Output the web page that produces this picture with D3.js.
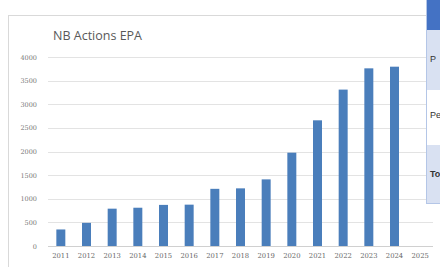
<!DOCTYPE html>
<html><head><meta charset="utf-8">
<script src="https://cdn.jsdelivr.net/npm/d3@7"></script>
<style>html,body{margin:0;padding:0;background:#fff;}svg{display:block;}</style>
</head><body>
<script>
const years = ["2011","2012","2013","2014","2015","2016","2017","2018","2019","2020","2021","2022","2023","2024","2025"];
const actions = [350,490,790,810,870,875,1210,1220,1410,1975,2660,3310,3760,3795,null];
const yTicks = [0,500,1000,1500,2000,2500,3000,3500,4000];
const tableRows = ["P","Pe","To"];

const W=440,H=267;
const svg=d3.select("body").append("svg").attr("width",W).attr("height",H);
svg.append("rect").attr("width",W).attr("height",H).attr("fill","#fff");
// chart frame
svg.append("rect").attr("x",8.5).attr("y",15.5).attr("width",460).attr("height",260)
  .attr("fill","#fff").attr("stroke","#d9d9d9");

const x=d3.scaleBand().domain(years).range([48,433]).paddingInner(0.65).paddingOuter(0.325);
const y=d3.scaleLinear().domain([0,4000]).range([246,57]);

const grid=svg.append("g");
grid.selectAll("line").data(yTicks).join("line")
  .attr("x1",48).attr("x2",433).attr("y1",d=>Math.round(y(d))+0.5).attr("y2",d=>Math.round(y(d))+0.5)
  .attr("stroke",d=>d===0?"#d0d0d0":"#e3e3e3").attr("stroke-width",1);

const yAxis=svg.append("g").attr("transform","translate(39,0)")
  .call(d3.axisLeft(y).tickValues(yTicks).tickSize(0).tickPadding(2).tickFormat(d3.format("d")));
yAxis.select(".domain").remove();
yAxis.selectAll("text").attr("font-family","DejaVu Serif, Liberation Serif, serif").attr("font-size",6.5).attr("fill","#777");

svg.append("g").selectAll("rect").data(years.map((d,i)=>({year:d,v:actions[i]})).filter(d=>d.v!=null)).join("rect")
  .attr("x",d=>x(d.year)).attr("width",x.bandwidth())
  .attr("y",d=>y(d.v)).attr("height",d=>y(0)-y(d.v)).attr("fill","#4a7ebb");

const xAxis=svg.append("g").attr("transform","translate(0,251)")
  .call(d3.axisBottom(x).tickSize(0).tickPadding(2));
xAxis.select(".domain").remove();
xAxis.selectAll("text").attr("font-family","DejaVu Serif, Liberation Serif, serif").attr("font-size",6.8).attr("fill","#666");

svg.append("text").attr("x",53).attr("y",40).text("NB Actions EPA")
  .attr("font-family","Open Sans, Liberation Sans, sans-serif").attr("font-size",12.5).attr("fill","#595959");

// table on the right
const tx=426;
const rows=[{y:0,h:30,fill:"#4472c4"},{y:30,h:60,fill:"#d9e1f2"},{y:90,h:55,fill:"#ffffff"},{y:145,h:58,fill:"#d9e1f2"}];
svg.append("g").selectAll("rect").data(rows).join("rect")
  .attr("x",tx).attr("y",d=>d.y).attr("width",W-tx).attr("height",d=>d.h).attr("fill",d=>d.fill);
svg.append("line").attr("x1",tx+0.5).attr("x2",tx+0.5).attr("y1",0).attr("y2",203).attr("stroke","#b4c6e7");
svg.append("line").attr("x1",tx).attr("x2",W).attr("y1",203.5).attr("y2",203.5).attr("stroke","#b4c6e7");
const ty=[62,118,177];
svg.append("g").selectAll("text").data(tableRows).join("text")
  .attr("x",tx+4).attr("y",(d,i)=>ty[i]).text(d=>d)
  .attr("font-family","Liberation Sans, Arial, sans-serif").attr("font-size",9)
  .attr("font-weight",(d,i)=>i===2?"bold":"normal").attr("fill","#333");
</script>
</body></html>
